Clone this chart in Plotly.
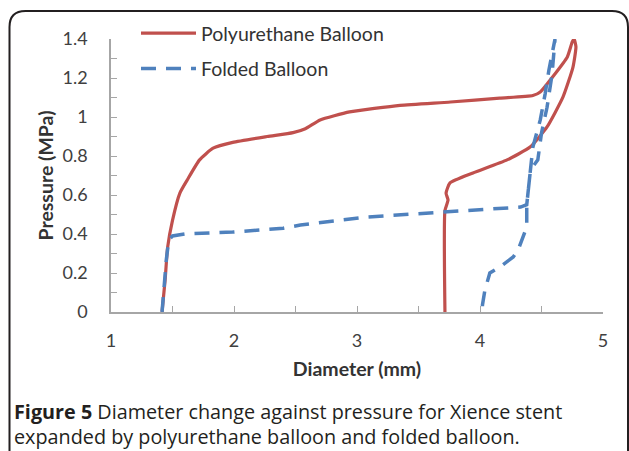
import plotly.graph_objects as go

# Polyurethane balloon (diameter mm, pressure MPa)
pu_diameter = [1.415, 1.44, 1.46, 1.50, 1.56, 1.62, 1.72, 1.83, 1.99, 2.27, 2.48, 2.58, 2.70, 2.94,
               3.35, 3.76, 4.16, 4.43, 4.49, 4.59, 4.71, 4.75, 4.765, 4.78, 4.756, 4.675, 4.545,
               4.407, 4.22, 3.943, 3.756, 3.724, 3.74, 3.715, 3.715]
pu_pressure = [0.0, 0.164, 0.33, 0.47, 0.61, 0.677, 0.78, 0.84, 0.87, 0.90, 0.92, 0.94, 0.985, 1.026,
               1.06, 1.077, 1.097, 1.11, 1.128, 1.205, 1.308, 1.385, 1.40, 1.36, 1.256, 1.103, 0.949,
               0.846, 0.78, 0.713, 0.662, 0.61, 0.574, 0.52, 0.0]

# Folded balloon
fb_diameter = [1.415, 1.43, 1.45, 1.47, 1.50, 1.60, 1.99, 2.40, 2.54, 3.08, 3.62, 4.02, 4.33, 4.38,
               4.41, 4.47, 4.50, 4.545, 4.585, 4.61, 4.59, 4.56, 4.53, 4.49, 4.43, 4.41, 4.38,
               4.38, 4.31, 4.27, 4.16, 4.08, 4.04, 4.02, 4.02]
fb_pressure = [0.0, 0.12, 0.27, 0.37, 0.39, 0.40, 0.41, 0.43, 0.446, 0.487, 0.51, 0.528, 0.538, 0.55,
               0.728, 0.78, 0.918, 1.05, 1.215, 1.40, 1.34, 1.24, 1.12, 0.985, 0.846, 0.713, 0.55,
               0.436, 0.318, 0.282, 0.23, 0.20, 0.113, 0.036, 0.0]

x_ticks = [1, 2, 3, 4, 5]
y_ticks = [0, 0.2, 0.4, 0.6, 0.8, 1, 1.2, 1.4]

W, H = 629, 451
L, R, T, B = 111, 26, 39, 139
pw, ph = W - L - R, H - T - B

def px(x):
    return (x - L) / pw

def py(y):
    return (H - B - y) / ph

FONT = "Lato"
CAP_FONT = "Open Sans"

fig = go.Figure()
fig.add_trace(go.Scatter(x=pu_diameter, y=pu_pressure, mode="lines", name="Polyurethane Balloon",
                         line=dict(color="#C0504D", width=3.2, shape="spline", smoothing=0.5),
                         legendgroup="a"))
fig.add_trace(go.Scatter(x=fb_diameter, y=fb_pressure, mode="lines", name="Folded Balloon",
                         line=dict(color="#4F81BD", width=3.5, dash="15px,10px"),
                         legendgroup="b"))

axis_common = dict(showline=True, linecolor="#A6A6A6", linewidth=1.5, ticks="inside", ticklen=6,
                   tickcolor="#A6A6A6", tickwidth=1.2, showgrid=False, zeroline=False,
                   tickfont=dict(family=FONT, size=18, color="#404040"))

fig.update_layout(
    width=W, height=H,
    margin=dict(l=L, r=R, t=T, b=B),
    paper_bgcolor="white", plot_bgcolor="white",
    xaxis=dict(range=[1, 5], tickvals=x_ticks, ticklabelstandoff=12,
               minor=dict(dtick=0.5, ticks="inside", ticklen=6, tickcolor="#A6A6A6"),
               title=dict(text="<b>Diameter (mm)</b>", font=dict(family=FONT, size=19.5, color="#333333"),
                          standoff=12),
               **axis_common),
    yaxis=dict(range=[0, 1.4], tickvals=y_ticks, ticklabelstandoff=18,
               minor=dict(dtick=0.1, ticks="inside", ticklen=6, tickcolor="#A6A6A6"),
               title=dict(text="<b>Pressure (MPa)</b>", font=dict(family=FONT, size=19.5, color="#333333"),
                          standoff=4),
               **axis_common),
    legend=dict(x=px(136), y=py(14), xanchor="left", yanchor="top", bgcolor="rgba(0,0,0,0)",
                font=dict(family=FONT, size=19.5, color="#333333"), traceorder="grouped",
                tracegroupgap=7, itemwidth=55),
    showlegend=True,
)

# frame with rounded top corners
x0, x1, yt, yb, r = 9.5, 628, 11, 470, 16
path = (f"M {px(x0)},{py(yb)} L {px(x0)},{py(yt + r)} Q {px(x0)},{py(yt)} {px(x0 + r)},{py(yt)} "
        f"L {px(x1 - r)},{py(yt)} Q {px(x1)},{py(yt)} {px(x1)},{py(yt + r)} L {px(x1)},{py(yb)}")
fig.add_shape(type="path", path=path, xref="paper", yref="paper",
              line=dict(color="#231F20", width=2))

fig.add_annotation(x=px(12), y=py(411), xref="paper", yref="paper", xanchor="left", yanchor="middle",
                   showarrow=False, align="left",
                   text="<b>Figure 5</b> Diameter change against pressure for Xience stent",
                   font=dict(family=CAP_FONT, size=19.8, color="#231F20"))
fig.add_annotation(x=px(12), y=py(436.5), xref="paper", yref="paper", xanchor="left", yanchor="middle",
                   showarrow=False, align="left",
                   text="expanded by polyurethane balloon and folded balloon.",
                   font=dict(family=CAP_FONT, size=19.8, color="#231F20"))

fig.write_html("out.html")
